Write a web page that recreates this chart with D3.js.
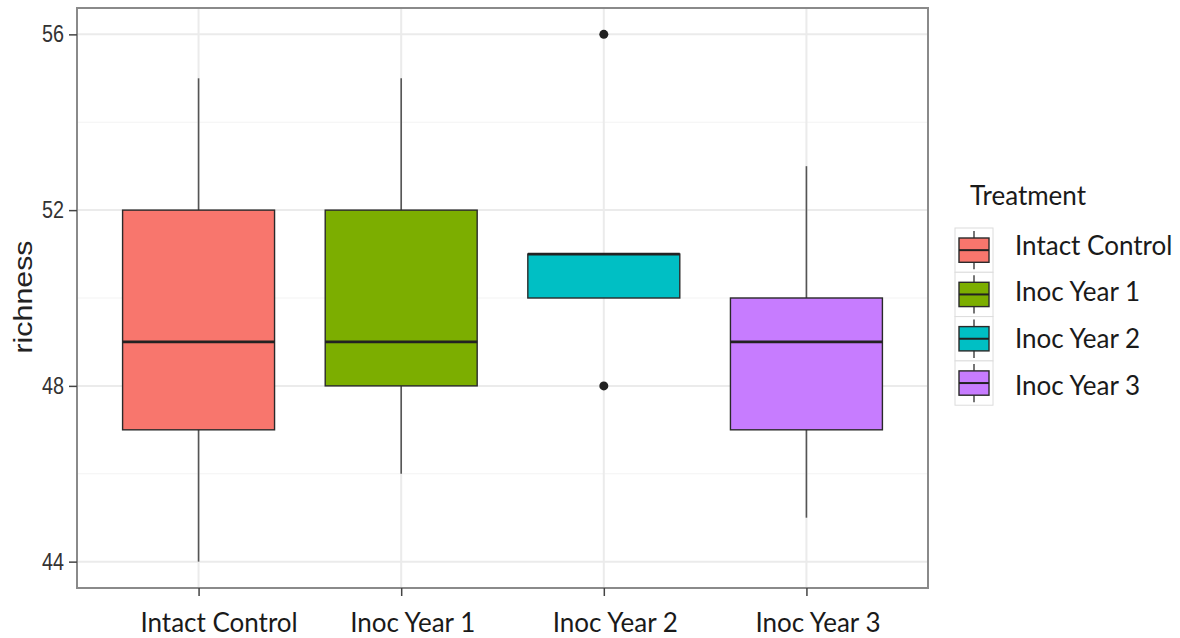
<!DOCTYPE html>
<html>
<head>
<meta charset="utf-8">
<script src="https://cdn.jsdelivr.net/npm/d3@7"></script>
<style>
  html, body { margin: 0; padding: 0; background: #fff; }
  svg { display: block; }
</style>
</head>
<body>
<svg id="chart" width="1180" height="638"></svg>
<script>
// Treatment groups and their box-plot summaries (species richness)
const categories = ["Intact Control", "Inoc Year 1", "Inoc Year 2", "Inoc Year 3"];
const colors = ["#F8766D", "#7CAE00", "#00BFC4", "#C77CFF"];
const whiskerLow = [44, 46, 50, 45];
const q1 = [47, 48, 50, 47];
const median = [49, 49, 51, 49];
const q3 = [52, 52, 51, 50];
const whiskerHigh = [55, 55, 51, 53];
const outliers = [[], [], [56, 48], []];
const yTicks = [44, 48, 52, 56];
const yMinor = [46, 50, 54];

const svg = d3.select("#chart");
const panel = { left: 77, top: 8, right: 928, bottom: 588 };
const labelFont = "Lato, 'Open Sans', sans-serif";

const y = d3.scaleLinear().domain([43.4, 56.6]).range([panel.bottom, panel.top]);
const xPos = d3.scaleLinear().domain([0.4, 4.6]).range([panel.left, panel.right]);
const x = c => xPos(categories.indexOf(c) + 1);
const boxW = xPos(0.75) - xPos(0);

const data = categories.map((c, i) => ({
  cat: c, color: colors[i], lo: whiskerLow[i], q1: q1[i], med: median[i],
  q3: q3[i], hi: whiskerHigh[i], out: outliers[i]
}));

// panel background and grid
svg.append("rect").attr("x", panel.left).attr("y", panel.top)
  .attr("width", panel.right - panel.left).attr("height", panel.bottom - panel.top)
  .attr("fill", "#fff");

const grid = svg.append("g");
grid.selectAll("line.minor").data(yMinor).join("line")
  .attr("x1", panel.left).attr("x2", panel.right)
  .attr("y1", d => y(d)).attr("y2", d => y(d))
  .attr("stroke", "#f3f3f3").attr("stroke-width", 1);
grid.selectAll("line.major").data(yTicks).join("line")
  .attr("x1", panel.left).attr("x2", panel.right)
  .attr("y1", d => y(d)).attr("y2", d => y(d))
  .attr("stroke", "#ebebeb").attr("stroke-width", 2);
grid.selectAll("line.vx").data(categories).join("line")
  .attr("y1", panel.top).attr("y2", panel.bottom)
  .attr("x1", d => x(d)).attr("x2", d => x(d))
  .attr("stroke", "#ebebeb").attr("stroke-width", 2);

// boxes
const g = svg.append("g");
const box = g.selectAll("g.box").data(data).join("g");
box.append("line")
  .attr("x1", d => x(d.cat)).attr("x2", d => x(d.cat))
  .attr("y1", d => y(d.q3)).attr("y2", d => y(d.hi))
  .attr("stroke", "#555").attr("stroke-width", 1.6);
box.append("line")
  .attr("x1", d => x(d.cat)).attr("x2", d => x(d.cat))
  .attr("y1", d => y(d.q1)).attr("y2", d => y(d.lo))
  .attr("stroke", "#555").attr("stroke-width", 1.6);
box.append("rect")
  .attr("x", d => x(d.cat) - boxW / 2).attr("width", boxW)
  .attr("y", d => y(d.q3)).attr("height", d => Math.max(0, y(d.q1) - y(d.q3)))
  .attr("fill", d => d.color).attr("stroke", "#2a2a2a").attr("stroke-width", 1.4);
box.append("line")
  .attr("x1", d => x(d.cat) - boxW / 2).attr("x2", d => x(d.cat) + boxW / 2)
  .attr("y1", d => y(d.med)).attr("y2", d => y(d.med))
  .attr("stroke", "#222").attr("stroke-width", 2.8);
box.each(function (d) {
  d3.select(this).selectAll("circle").data(d.out).join("circle")
    .attr("cx", x(d.cat)).attr("cy", v => y(v)).attr("r", 4.5).attr("fill", "#222");
});

// panel border
svg.append("rect").attr("x", panel.left).attr("y", panel.top)
  .attr("width", panel.right - panel.left).attr("height", panel.bottom - panel.top)
  .attr("fill", "none").attr("stroke", "#8a8a8a").attr("stroke-width", 2);

// y axis
const yAxis = svg.append("g").attr("transform", `translate(${panel.left},0)`)
  .call(d3.axisLeft(y).tickValues(yTicks).tickSize(8).tickPadding(5).tickFormat(d3.format("d")));
yAxis.select(".domain").remove();
yAxis.selectAll(".tick line").attr("stroke", "#444").attr("stroke-width", 1.5);
yAxis.selectAll(".tick text")
  .attr("fill", "#333").attr("font-family", "'Liberation Sans', Arial, sans-serif")
  .attr("font-size", 23).attr("textLength", 22).attr("lengthAdjust", "spacingAndGlyphs");

// x axis
const xAxis = svg.append("g").attr("transform", `translate(0,${panel.bottom})`)
  .call(d3.axisBottom(xPos).tickValues([1, 2, 3, 4]).tickSize(8).tickPadding(18)
    .tickFormat(d => categories[d - 1]));
xAxis.select(".domain").remove();
xAxis.selectAll(".tick line").attr("stroke", "#444").attr("stroke-width", 1.5);
xAxis.selectAll(".tick text")
  .attr("fill", "#1a1a1a").attr("font-family", labelFont)
  .attr("font-size", 26).attr("dx", (d, i) => i === 0 ? 20 : 11);

// y axis title
svg.append("text")
  .attr("transform", `translate(32,297) rotate(-90)`)
  .attr("text-anchor", "middle")
  .attr("font-family", "'Liberation Sans', Arial, sans-serif")
  .attr("font-size", 25).attr("fill", "#222")
  .attr("textLength", 113).attr("lengthAdjust", "spacingAndGlyphs")
  .text("richness");

// legend
const leg = svg.append("g");
leg.append("text").attr("x", 970).attr("y", 205)
  .attr("font-family", labelFont).attr("font-size", 26)
  .attr("fill", "#1a1a1a").text("Treatment");

const keyH = 44.3, keyTop = 228, keyX = 955, keyW = 38;
const keys = leg.selectAll("g.key").data(data).join("g")
  .attr("transform", (d, i) => `translate(${keyX},${keyTop + i * keyH})`);
keys.append("rect").attr("width", keyW).attr("height", keyH)
  .attr("fill", "#fff").attr("stroke", "#dcdcdc").attr("stroke-width", 1);
keys.append("line").attr("x1", keyW / 2).attr("x2", keyW / 2)
  .attr("y1", 3).attr("y2", keyH - 3).attr("stroke", "#555").attr("stroke-width", 1.6);
keys.append("rect").attr("x", 4).attr("width", keyW - 8)
  .attr("y", 10).attr("height", keyH - 20)
  .attr("fill", d => d.color).attr("stroke", "#2a2a2a").attr("stroke-width", 1.4);
keys.append("line").attr("x1", 4).attr("x2", keyW - 4)
  .attr("y1", keyH / 2).attr("y2", keyH / 2).attr("stroke", "#222").attr("stroke-width", 2);
keys.append("text").attr("x", 60).attr("y", (d, i) => keyH / 2 - 5 + i * 2.5).attr("dy", "0.36em")
  .attr("font-family", labelFont).attr("font-size", 26)
  .attr("fill", "#1a1a1a").text(d => d.cat);
</script>
</body>
</html>
